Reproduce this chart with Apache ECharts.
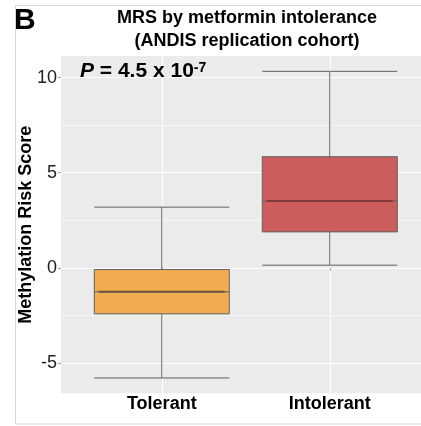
<!DOCTYPE html>
<html>
<head>
<meta charset="utf-8">
<script src="https://cdn.jsdelivr.net/npm/echarts@6/dist/echarts.min.js"></script>
<style>
  html, body { margin: 0; padding: 0; background: #ffffff; }
  #chart { width: 421px; height: 426px; }
</style>
</head>
<body>
<div id="chart"></div>
<script>
// Methylation risk score by metformin intolerance group
const categories = ['Tolerant', 'Intolerant'];
const whiskerLow = [-5.79, 0.14];
const q1 = [-2.42, 1.89];
const median = [-1.26, 3.51];
const q3 = [-0.09, 5.84];
const whiskerHigh = [3.19, 10.33];
const yTicks = [-5, 0, 5, 10];
const yMinorTicks = [-2.5, 2.5, 7.5];

const boxFill = ['#F3AB4F', '#CD5C5C'];
const medianInk = ['#66543f', '#863b3b'];
const FONT = '"Liberation Sans", Arial, sans-serif';

// positions of the groups on the x scale (1, 2, ...)
const xPos = categories.map((_, i) => i + 1);

// ggplot-style 5% padding around the whisker range
const lo = Math.min(...whiskerLow), hi = Math.max(...whiskerHigh);
const pad = (hi - lo) * 0.05;
const yMin = lo - pad, yMax = hi + pad;

// the panel runs off the right edge of the canvas, so the x range is cut there
const xMin = 0.4, xMax = 2.543;

const boxData = categories.map((c, i) => ({
  name: c,
  value: [xPos[i], whiskerLow[i], q1[i], median[i], q3[i], whiskerHigh[i]],
  itemStyle: { color: boxFill[i] }
}));
const medianData = categories.map((c, i) => [xPos[i], median[i], i]);

const chart = echarts.init(document.getElementById('chart'), null, { renderer: 'canvas' });
chart.setOption({
  animation: false,
  backgroundColor: '#ffffff',
  title: {
    text: 'MRS by metformin intolerance\n(ANDIS replication cohort)',
    left: 242,
    top: 2,
    textAlign: 'center',
    textStyle: { fontFamily: FONT, fontSize: 18, fontWeight: 'bold', color: '#000', lineHeight: 23 }
  },
  graphic: [
    {
      type: 'rect', z: 0, silent: true,
      shape: { x: 15.5, y: 5.5, width: 500, height: 418.5 },
      style: { fill: 'none', stroke: '#d9d9d9', lineWidth: 1 }
    },
    {
      type: 'text', z: 10, left: 14, top: 6,
      style: { text: 'B', font: 'bold 30px ' + FONT, fill: '#000' }
    },
    {
      type: 'text', z: 10, left: 80, top: 61,
      style: {
        text: '{p|P}{t| = 4.5 x 10}{s|-7}',
        rich: {
          p: { fontFamily: FONT, fontSize: 21, fontWeight: 'bold', fontStyle: 'italic', fill: '#000', color: '#000' },
          t: { fontFamily: FONT, fontSize: 21, fontWeight: 'bold', fill: '#000', color: '#000' },
          s: { fontFamily: FONT, fontSize: 14, fontWeight: 'bold', fill: '#000', color: '#000', verticalAlign: 'top' }
        }
      }
    }
  ],
  grid: { left: 61, right: 0, top: 56, bottom: 32.7, show: true, backgroundColor: '#EBEBEB', borderWidth: 0 },
  xAxis: {
    type: 'value',
    min: xMin, max: xMax,
    axisLine: { show: false },
    axisTick: { show: true, length: 3, lineStyle: { color: '#a0a0a0' }, customValues: xPos },
    axisLabel: {
      customValues: xPos, margin: 2,
      formatter: v => categories[Math.round(v) - 1] || '',
      fontFamily: FONT, fontSize: 18, fontWeight: 'bold', color: '#000'
    },
    splitLine: { show: true, lineStyle: { color: '#ffffff', width: 1 } }
  },
  yAxis: [
    {
      type: 'value', min: yMin, max: yMax,
      name: 'Methylation Risk Score', nameLocation: 'middle', nameGap: 26,
      nameMoveOverlap: false,
      nameTextStyle: { fontFamily: FONT, fontSize: 18, fontWeight: 'bold', color: '#000' },
      axisLine: { show: false },
      axisTick: { show: true, length: 3, lineStyle: { color: '#a0a0a0' }, customValues: yTicks },
      axisLabel: { customValues: yTicks, margin: 4, fontFamily: FONT, fontSize: 18, color: '#222', formatter: v => String(v) },
      splitLine: { show: true, lineStyle: { color: '#ffffff', width: 1 } }
    },
    {
      type: 'value', min: yMin, max: yMax, position: 'left',
      axisLine: { show: false },
      axisTick: { show: false, customValues: yMinorTicks },
      axisLabel: { show: false, customValues: yMinorTicks },
      splitLine: { show: true, lineStyle: { color: '#ffffff', width: 0.6 } }
    }
  ],
  series: [
    {
      type: 'boxplot',
      data: boxData,
      boxWidth: ['75%', '75%'],
      itemStyle: { borderColor: '#606060', borderWidth: 1 },
      z: 3
    },
    {
      type: 'custom',
      data: medianData,
      z: 4,
      renderItem: function (params, api) {
        const c = api.coord([api.value(0), api.value(1)]);
        const w = api.size([0.75, 0])[0];
        const idx = api.value(2);
        return {
          type: 'line',
          shape: { x1: c[0] - w / 2, y1: c[1], x2: c[0] + w / 2, y2: c[1] },
          style: { stroke: medianInk[idx], lineWidth: 2 }
        };
      }
    }
  ]
});
</script>
</body>
</html>
